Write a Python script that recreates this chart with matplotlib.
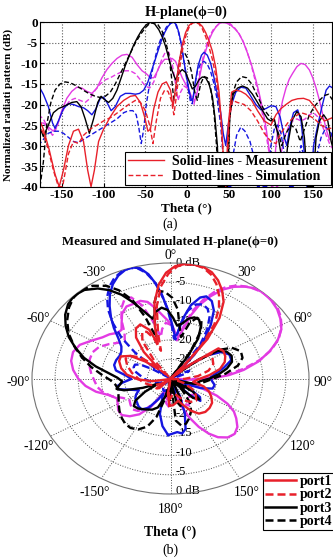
import numpy as np
import matplotlib
matplotlib.use("Agg")
import matplotlib.pyplot as plt
from matplotlib.lines import Line2D

plt.rcParams['font.family'] = ['Liberation Serif', 'DejaVu Serif']
plt.rcParams['axes.unicode_minus'] = False

# ---------------- data (theta in degrees, normalized level in dB) ----------------
red_meas = [(-178,-23),(-172,-26),(-165,-31),(-158,-37),(-153,-40),(-148,-36),(-142,-30),(-136,-26.5),
            (-130,-26),(-124,-29),(-119,-36),(-115,-40),(-111,-36),(-106,-29),(-100,-26),(-92,-23),
            (-84,-20.5),(-76,-19),(-68,-18),(-62,-17.8),(-56,-19.5),(-51,-23),(-47,-26.5),(-44,-26),
            (-40,-21),(-35,-17),(-30,-15),(-25,-14.5),(-20,-16.5),(-17,-20.5),(-14,-16),(-10,-10),
            (-6,-5.5),(-2,-2.5),(2,-0.8),(6,-0.1),(10,0),(14,-0.2),(18,-1),(22,-2.5),(26,-4.5),
            (30,-7),(34,-11),(38,-17),(41,-25),(44,-36),(46,-40),(49,-25),(53,-17),(58,-16.5),
            (64,-16.8),(70,-17.5),(77,-19),(84,-21.5),(92,-24),(100,-25),(106,-22.5),(112,-21),
            (118,-20),(125,-19),(132,-18.6),(139,-18.5),(146,-19),(152,-20.5),(158,-22.5),(164,-24),
            (170,-23.5),(176,-23)]
red_sim = [(-178,-24.5),(-172,-27),(-166,-31),(-160,-36),(-154,-40),(-149,-40),(-142,-32),(-136,-29),
           (-130,-29.5),(-124,-27.5),(-116,-26),(-108,-25),(-100,-24),(-90,-23),(-80,-21.5),(-70,-20),
           (-62,-19),(-56,-19.5),(-50,-21.5),(-45,-25),(-41,-29.5),(-37,-24),(-32,-18.5),(-27,-16.5),
           (-23,-16.8),(-19,-19),(-16,-22.5),(-13,-18),(-9,-11),(-5,-6),(-1,-2.8),(3,-0.8),(7,-0.1),
           (10,0),(14,-0.4),(18,-1.6),(22,-3.5),(26,-6),(30,-9),(34,-13),(38,-19),(41,-26),(44,-36),
           (47,-40),(50,-24),(54,-19),(60,-19.5),(68,-20),(76,-21.5),(84,-24),(92,-27),(100,-29),
           (106,-29.5),(112,-27),(120,-24.5),(128,-23),(136,-22),(144,-22.5),(152,-23.5),(160,-25),
           (168,-26),(176,-25.5)]
black_meas = [(-178,-24.5),(-172,-27.8),(-166,-25),(-160,-22),(-154,-21),(-146,-20.3),(-138,-19.5),
              (-132,-19.3),(-127,-20.5),(-122,-23.5),(-117,-27),(-112,-23.5),(-107,-19.5),(-103,-18),
              (-99,-18.8),(-94,-19.5),(-89,-18.5),(-84,-16.5),(-79,-13.5),(-74,-10.5),(-69,-8),
              (-64,-5.5),(-59,-3.5),(-54,-1.8),(-49,-0.6),(-44,0),(-39,-0.4),(-34,-1.8),(-30,-3.5),
              (-26,-5.8),(-22,-8.8),(-18,-11.8),(-14,-14),(-10,-12.3),(-6,-11.5),(-2,-12.2),(2,-14.2),
              (6,-16.2),(10,-15.5),(14,-14),(18,-13.3),(22,-13.5),(26,-15),(30,-18),(33,-23),(36,-30),
              (38,-40),(48,-40),(51,-22),(55,-17.5),(60,-16),(66,-15.5),(72,-16),(78,-17.5),(84,-19.5),
              (90,-21.5),(96,-23.5),(100,-24),(104,-23.5),(108,-27),(112,-32),(116,-38),(120,-30),
              (125,-24),(131,-21.7),(136,-23),(140,-28),(144,-40),(150,-40),(154,-28),(158,-24),
              (163,-22.5),(168,-24),(172,-29),(176,-32)]
black_sim = [(-176,-40),(-172,-34),(-168,-25),(-163,-19.5),(-158,-16.5),(-152,-15),(-146,-14.5),
             (-140,-14.7),(-134,-15.3),(-128,-16),(-122,-16.8),(-116,-17.5),(-110,-18),(-104,-18.3),
             (-98,-18),(-92,-17),(-86,-15),(-80,-12.5),(-74,-10),(-68,-7.5),(-62,-5),(-56,-3),
             (-50,-1.3),(-45,-0.3),(-40,0),(-35,-0.6),(-30,-2.2),(-26,-4.5),(-22,-8),(-19,-13),
             (-16,-19),(-13,-15),(-10,-10),(-7,-7),(-3,-7.5),(1,-9),(5,-12),(9,-17),(12,-19),
             (16,-15),(20,-13.2),(24,-13.5),(28,-16),(32,-22),(35,-30),(37,-40),(47,-40),(50,-25),
             (54,-17.5),(59,-14.5),(65,-13.2),(71,-13.5),(77,-15),(84,-18),(91,-21),(97,-22.6),
             (103,-24),(109,-27),(113,-30),(118,-27),(124,-25),(130,-26),(135,-29),(140,-26),
             (146,-22.5),(152,-20.5),(158,-19),(164,-17.8),(169,-17.5),(174,-19)]
blue_meas = [(-178,-15.3),(-172,-17.5),(-166,-20.5),(-161,-24.5),(-158,-25.8),(-154,-24),(-148,-21),
             (-142,-19.8),(-136,-20),(-130,-20.5),(-124,-20.8),(-119,-21.5),(-114,-22.5),(-109,-21),
             (-104,-18.5),(-100,-18.2),(-96,-19.5),(-91,-21.5),(-86,-20.5),(-80,-18),(-74,-17.3),
             (-68,-17.3),(-62,-17.5),(-57,-17.3),(-52,-16.5),(-47,-14.5),(-43,-12),(-39,-9.5),
             (-35,-7),(-31,-4.5),(-27,-2.5),(-23,-1),(-19,-0.1),(-16,0),(-13,-0.6),(-10,-2.5),
             (-7,-5.5),(-4,-9.5),(-1,-13),(2,-16.5),(5,-19),(7,-18.5),(10,-14),(13,-10.5),(17,-8),
             (20,-7.3),(24,-8),(28,-10),(32,-13.5),(36,-17.5),(40,-22),(43,-27),(46,-30),(49,-25),
             (53,-20),(58,-17),(64,-15.8),(70,-16),(76,-18),(82,-20),(88,-21.3),(94,-21),(100,-20.3),
             (106,-20.5),(111,-23),(116,-28),(119,-30),(123,-25),(127,-22),(132,-21.3),(136,-24),
             (140,-32),(143,-40),(147,-40),(151,-30),(156,-25),(161,-20.5),(166,-16.5),(170,-15.5),
             (174,-16)]
blue_sim = [(-178,-30),(-172,-28.5),(-166,-27),(-160,-26.5),(-154,-26.5),(-148,-27),(-142,-28),
            (-136,-29),(-130,-29.3),(-124,-28.5),(-116,-27.5),(-108,-26.5),(-100,-25.5),(-92,-24.5),
            (-84,-23.5),(-76,-22),(-70,-21.5),(-65,-21.5),(-61,-22.5),(-58,-25.5),(-55,-29.5),
            (-52,-26),(-49,-20),(-45,-15),(-41,-11),(-37,-7.5),(-33,-4.8),(-29,-2.7),(-25,-1.2),
            (-21,-0.3),(-17,0),(-14,-0.5),(-11,-2),(-8,-4.5),(-5,-8),(-2,-12),(1,-16),(4,-19.5),
            (6,-19.8),(9,-15.5),(12,-12),(16,-10),(20,-9.5),(24,-10.2),(28,-12),(32,-15),(36,-19),
            (40,-25),(43,-33),(46,-40),(52,-40),(55,-32),(59,-27.5),(64,-25.5),(69,-26.5),(75,-29),
            (80,-33),(84,-40),(96,-40),(100,-30),(104,-26),(108,-25),(112,-27),(116,-32),(120,-40),
            (128,-40),(132,-34),(136,-30),(140,-33),(144,-40),(150,-40),(154,-33),(160,-28),
            (166,-25.5),(172,-27),(176,-30)]
mag_meas = [(-178,-24.5),(-172,-24.5),(-166,-25.5),(-160,-26.5),(-155,-25),(-150,-21.5),(-144,-18.5),
            (-138,-16.8),(-132,-15.8),(-126,-16),(-120,-16.8),(-114,-17.3),(-108,-16),(-102,-13.5),
            (-96,-11.5),(-90,-10),(-84,-8.8),(-78,-8),(-72,-7.8),(-66,-8.5),(-60,-10.3),(-54,-11.8),
            (-49,-12.5),(-44,-13.5),(-40,-13.5),(-36,-12),(-32,-10.2),(-27,-9),(-22,-9),(-18,-8.8),
            (-14,-9.5),(-10,-11.5),(-6,-13.5),(-2,-15),(2,-16.5),(6,-18.5),(9,-19),(12,-17),
            (15,-13),(18,-10),(22,-7),(26,-4.3),(30,-2.5),(34,-1.2),(38,-0.3),(42,0),(47,-0.2),
            (52,-0.7),(57,-1.6),(62,-2.8),(67,-4.8),(72,-7.5),(77,-10.5),(82,-14),(86,-17.3),
            (90,-21),(94,-25.4),(98,-31),(102,-40),(106,-30),(110,-23),(114,-19),(118,-16),
            (122,-13.8),(126,-12.4),(131,-10.8),(136,-10),(141,-10.3),(146,-11.6),(150,-13.5),
            (154,-16),(158,-19),(162,-22.5),(166,-26),(170,-28.6),(174,-27)]
mag_sim = [(-178,-22.5),(-172,-23.5),(-166,-26),(-161,-27.5),(-157,-26),(-152,-23),(-146,-20.5),
           (-140,-19),(-134,-18.5),(-128,-19),(-122,-19.5),(-116,-18.5),(-110,-16.5),(-104,-15),
           (-98,-14),(-92,-13.5),(-86,-12.8),(-80,-12.2),(-74,-11.8),(-68,-11.8),(-62,-12.5),
           (-56,-14),(-50,-15.5),(-45,-16),(-40,-14.5),(-35,-11.5),(-30,-8.8),(-26,-7.2),(-22,-7.3),
           (-18,-10),(-14,-15),(-11,-19),(-8,-17),(-4,-15.5),(0,-16),(4,-18),(8,-20),(11,-17),
           (15,-12),(19,-8.5),(23,-5.5),(27,-3.3),(31,-1.8),(36,-0.7),(41,-0.1),(46,0),(51,-0.3),
           (56,-1.2),(61,-2.5),(66,-4.3),(71,-6.8),(76,-10),(81,-14),(86,-18),(90,-22.5),(94,-27),
           (98,-32),(101,-40),(108,-40),(112,-32),(116,-28),(121,-25.5),(126,-24),(131,-23.5),
           (136,-24),(141,-23.5),(146,-22.5),(151,-22),(156,-23),(161,-25),(166,-27.5),(171,-30),
           (175,-31)]

x_ticks = [-150, -100, -50, 0, 50, 100, 150]
y_ticks = [0, -5, -10, -15, -20, -25, -30, -35, -40]
theta_tick_angles = [0, 30, 60, 90, 120, 150, 180, -150, -120, -90, -60, -30]
r_rings = [-25, -20, -15, -10, -5]
r_labels_top = [(0, '0 dB'), (-5, '-5'), (-10, '-10'), (-15, '-15'), (-20, '-20'), (-25, '-25')]
r_labels_bot = [(0, '0 dB'), (-5, '-5'), (-10, '-10'), (-15, '-15'), (-20, '-20')]
port_labels = ['port1', 'port2', 'port3', 'port4']
legend_top_labels = ['Solid-lines - Measurement', 'Dotted-lines - Simulation']

RED = '#e8202a'
BLACK = '#000000'
BLUE = '#1515e0'
MAG = '#e33ae3'

series = [  # (data, color, dashed)
    (mag_meas, MAG, False), (mag_sim, MAG, True),
    (blue_meas, BLUE, False), (blue_sim, BLUE, True),
    (black_meas, BLACK, False), (black_sim, BLACK, True),
    (red_meas, RED, False), (red_sim, RED, True),
]

W, H = 333, 558
fig = plt.figure(figsize=(W / 100, H / 100), dpi=100)

# ---------------- (a) cartesian ----------------
ax = fig.add_axes([40 / W, 1 - 186.7 / H, 292 / W, 164.4 / H])
for data, col, dashed in series:
    th = np.array([p[0] for p in data], float)
    db = np.array([p[1] for p in data], float)
    ax.plot(th, db, color=col, lw=1.0, linestyle=(0, (3.5, 1.8)) if dashed else '-')
ax.set_xlim(-176, 173)
ax.set_ylim(-40, 0)
ax.set_xticks(x_ticks)
ax.set_yticks(y_ticks)
ax.grid(True, linestyle=':', color='0.35', lw=0.8)
ax.tick_params(direction='in', length=3, labelsize=9.5, pad=1.5)
for lab in ax.get_xticklabels() + ax.get_yticklabels():
    lab.set_fontweight('bold')
for s in ax.spines.values():
    s.set_linewidth(0.8)
ax.set_ylabel('Normalized radiati pattern (dB)', fontsize=8, fontweight='bold')
ax.yaxis.set_label_coords(-0.092, 0.5)
leg_a = ax.legend([Line2D([], [], color=RED, lw=1.0),
                   Line2D([], [], color=RED, lw=1.0, linestyle=(0, (3.5, 1.8)))],
                  legend_top_labels, loc='lower right', bbox_to_anchor=(1.0, 0.0),
                  borderaxespad=0.1, prop={'weight': 'bold', 'size': 10},
                  fancybox=False, framealpha=1, edgecolor='black', handlelength=2.6,
                  handletextpad=0.6, borderpad=0.2, labelspacing=0.1)
leg_a.get_frame().set_linewidth(0.8)

fig.text(186 / W, 1 - 12 / H, 'H-plane(\u03d5=0)', ha='center', va='center',
         fontsize=10.3, fontweight='bold')
fig.text(186 / W, 1 - 208.5 / H, 'Theta (\u00b0)', ha='center', va='center',
         fontsize=9.5, fontweight='bold')
fig.text(170 / W, 1 - 224 / H, '(a)', ha='center', va='center', fontsize=10)

# ---------------- (b) polar ----------------
pax = fig.add_axes([32 / W, 1 - 494 / H, 277 / W, 231 / H], projection='polar')
pax.set_aspect('auto')
pax.set_theta_zero_location('N')
pax.set_theta_direction(-1)
pax.set_rlim(-30, 0)
pax.set_rticks(r_rings)
pax.set_yticklabels([])
pax.set_thetagrids(list(range(0, 360, 30)), labels=[''] * 12)
pax.grid(True, linestyle=':', color='0.3', lw=0.7)
pax.spines['polar'].set_color('0.45')
pax.spines['polar'].set_linewidth(0.8)

for data, col, dashed in series:
    th = np.radians(np.array([p[0] for p in data], float))
    db = np.array([p[1] for p in data], float)
    th = np.append(th, th[0] + 2 * np.pi)
    db = np.append(db, db[0])
    pax.plot(th, np.maximum(db, -30), color=col, lw=1.7,
             linestyle=(0, (3.2, 1.6)) if dashed else '-', zorder=3)

for a in theta_tick_angles:
    pax.annotate('%d\u00b0' % a, xy=(np.radians(a), 3), xytext=(0, -4),
                 textcoords='offset pixels', ha='center', va='center',
                 fontsize=9.8, annotation_clip=False)
for r, t in r_labels_top:
    pax.annotate(t, xy=(0, r), xytext=(5, 0), textcoords='offset pixels',
                 ha='left', va='center', fontsize=9, zorder=1, annotation_clip=False)
for r, t in r_labels_bot:
    pax.annotate(t, xy=(np.pi, r), xytext=(5, 3), textcoords='offset pixels',
                 ha='left', va='center', fontsize=9, zorder=1, annotation_clip=False)

leg_b = pax.legend([Line2D([], [], color=RED, lw=1.8),
                    Line2D([], [], color=RED, lw=1.8, linestyle=(0, (3.2, 1.6))),
                    Line2D([], [], color=BLACK, lw=1.8),
                    Line2D([], [], color=BLACK, lw=1.8, linestyle=(0, (3.2, 1.6)))],
                   port_labels, loc='upper left', bbox_to_anchor=(263 / W, 1 - 473 / H),
                   bbox_transform=fig.transFigure, prop={'weight': 'bold', 'size': 10},
                   fancybox=False, framealpha=1, edgecolor='black', handlelength=2.2,
                   handletextpad=0.3, borderpad=0.15, labelspacing=0.02, borderaxespad=0)
leg_b.get_frame().set_linewidth(0.8)

fig.text(170 / W, 1 - 242 / H, 'Measured and Simulated H-plane(\u03d5=0)', ha='center',
         va='center', fontsize=9.3, fontweight='bold')
fig.text(170 / W, 1 - 532 / H, 'Theta (\u00b0)', ha='center', va='center',
         fontsize=9.8, fontweight='bold')
fig.text(170 / W, 1 - 550 / H, '(b)', ha='center', va='center', fontsize=10)

fig.savefig('out.png', dpi=100)
